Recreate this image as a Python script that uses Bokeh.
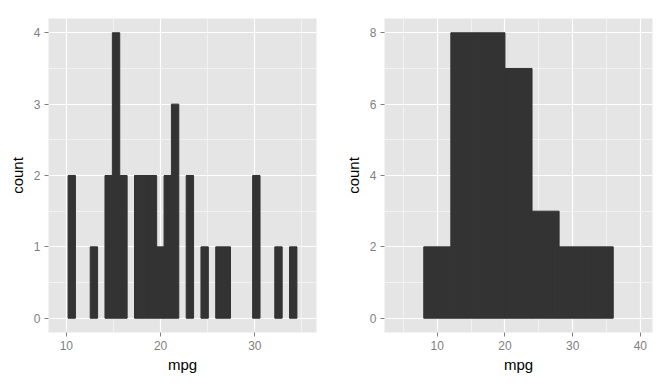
from bokeh.plotting import figure
from bokeh.layouts import row
from bokeh.models import FixedTicker, Range1d
from bokeh.embed import file_html
from bokeh.resources import INLINE

# Left histogram: binwidth = range/30, 31 bins starting at 10.1833
left_bin_start = 10.18333
left_binwidth = 0.78333
left_counts = [2, 0, 0, 1, 0, 2, 4, 2, 0, 2, 2, 2, 1, 2, 3, 0,
               2, 0, 1, 0, 1, 1, 0, 0, 0, 2, 0, 0, 1, 0, 1]

# Right histogram: binwidth = 4
right_edges = [8, 12, 16, 20, 24, 28, 32, 36]
right_counts = [2, 8, 8, 7, 3, 2, 2]

left_xticks = [10, 20, 30]
left_xminor = [15, 25, 35]
left_yticks = [0, 1, 2, 3, 4]
left_yminor = [0.5, 1.5, 2.5, 3.5]
right_xticks = [10, 20, 30, 40]
right_xminor = [5, 15, 25, 35]
right_yticks = [0, 2, 4, 6, 8]
right_yminor = [1, 3, 5, 7]

BG = "#E5E5E5"
BAR = "#333333"
FONT = "Liberation Sans"


def style(p, xt, xm, yt, ym):
    p.background_fill_color = BG
    p.border_fill_color = "white"
    p.outline_line_color = None
    p.xaxis.ticker = FixedTicker(ticks=xt, minor_ticks=xm)
    p.yaxis.ticker = FixedTicker(ticks=yt, minor_ticks=ym)
    for ax in (p.xaxis, p.yaxis):
        ax.axis_line_color = None
        ax.major_tick_line_color = "#7F7F7F"
        ax.major_tick_line_width = 1
        ax.major_tick_in = 0
        ax.major_tick_out = 4
        ax.minor_tick_line_color = None
        ax.major_label_text_color = "#7F7F7F"
        ax.major_label_text_font = FONT
        ax.major_label_text_font_size = "12px"
        ax.axis_label_text_font = FONT
        ax.axis_label_text_font_size = "15px"
        ax.axis_label_text_font_style = "normal"
        ax.axis_label_text_color = "black"
        ax.major_label_standoff = 4
        ax.axis_label_standoff = 3
    p.yaxis.axis_label_standoff = 5
    for g in (p.xgrid, p.ygrid):
        g.grid_line_color = "white"
        g.grid_line_width = 1.2
        g.minor_grid_line_color = "#F2F2F2"
        g.minor_grid_line_width = 1
    p.xaxis.axis_label = "mpg"
    p.yaxis.axis_label = "count"


def make(width, height, xr, yr):
    return figure(width=width, height=height, output_backend="svg", toolbar_location=None,
                  x_range=xr, y_range=yr,
                  min_border_left=48, min_border_right=20, min_border_top=18,
                  min_border_bottom=52)


# Left
le = [left_bin_start + i * left_binwidth for i in range(len(left_counts) + 1)]
lx0 = [le[i] for i, c in enumerate(left_counts) if c > 0]
lx1 = [le[i + 1] for i, c in enumerate(left_counts) if c > 0]
ly = [c for c in left_counts if c > 0]
lo, hi = le[0] - left_binwidth, le[-1] + left_binwidth
pad = (hi - lo) * 0.05
p1 = make(336, 384, Range1d(lo - pad, hi + pad), Range1d(-0.2, 4.2))
p1.quad(left=lx0, right=lx1, bottom=0, top=ly, fill_color=BAR,
        line_color=BAR, line_width=1, line_join="miter")
style(p1, left_xticks, left_xminor, left_yticks, left_yminor)

# Right
bw = right_edges[1] - right_edges[0]
lo2, hi2 = right_edges[0] - bw, right_edges[-1] + bw
pad2 = (hi2 - lo2) * 0.05
p2 = make(336, 384, Range1d(lo2 - pad2, hi2 + pad2), Range1d(-0.4, 8.4))
p2.quad(left=right_edges[:-1], right=right_edges[1:], bottom=0, top=right_counts,
        fill_color=BAR, line_color=BAR, line_width=1, line_join="miter")
style(p2, right_xticks, right_xminor, right_yticks, right_yminor)

layout = row(p1, p2)
open("out.html", "w").write(file_html(layout, INLINE))
